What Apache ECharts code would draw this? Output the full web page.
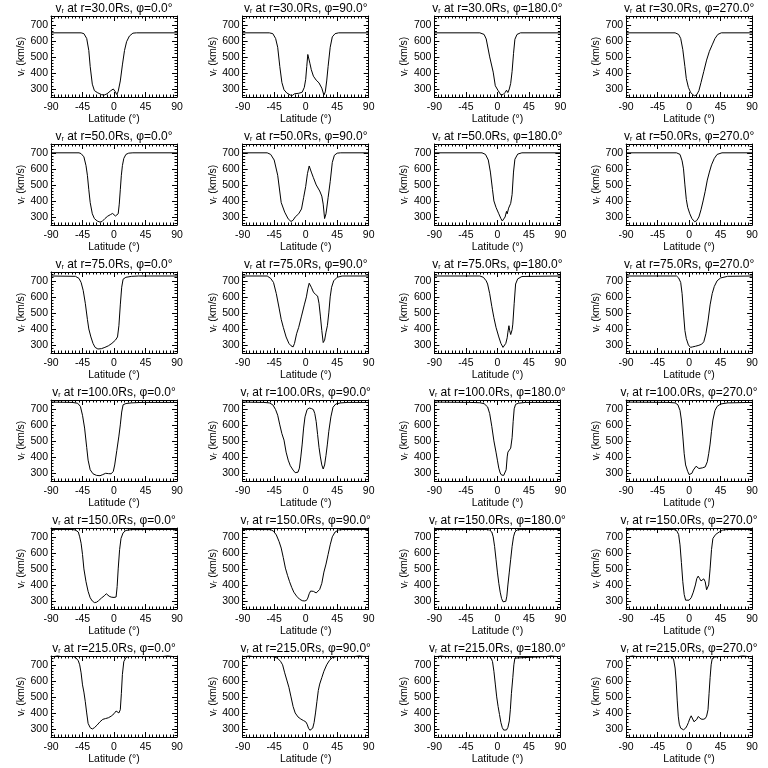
<!DOCTYPE html>
<html><head><meta charset="utf-8">
<script src="https://cdn.jsdelivr.net/npm/echarts@6/dist/echarts.min.js"></script>
<style>html,body{margin:0;padding:0;background:#fff}#c{width:768px;height:768px}</style>
</head><body><div id="c"></div>
<script>
const radii = [30, 50, 75, 100, 150, 215];
const phis = [0, 90, 180, 270];
const latTicks = [-90, -45, 0, 45, 90];

// [latitude (deg), v_r (km/s)]
const r30_p0 = [[-90,650],[-47,650],[-43,645],[-39,615],[-36,540],[-34,440],[-31,330],[-28,290],[-24,278],[-18,265],[-14,262],[-10,270],[-5,288],[-1,300],[2,282],[4,265],[6,285],[9,350],[12,450],[15,540],[18,595],[22,630],[27,648],[32,650],[90,650]];
const r30_p90 = [[-90,650],[-52,650],[-47,645],[-43,615],[-40,560],[-37,440],[-34,340],[-31,295],[-27,275],[-22,262],[-19,260],[-16,270],[-10,273],[-5,280],[-2,310],[0,360],[1.5,440],[3,515],[4.5,505],[6,460],[8,420],[11,380],[15,355],[19,338],[23,305],[26,262],[28,282],[30,350],[32,440],[35,560],[38,625],[42,645],[47,650],[90,650]];
const r30_p180 = [[-90,650],[-25,650],[-19,640],[-16,612],[-11,500],[-6,405],[-3,320],[1,290],[5,263],[8,265],[11,278],[13,292],[15,278],[17,300],[19,335],[21,410],[23,520],[25,610],[28,640],[33,650],[90,650]];
const r30_p270 = [[-90,650],[-20,650],[-15,640],[-12,615],[-9,545],[-6,440],[-4,365],[-1,310],[2,280],[5,265],[8,257],[11,265],[14,290],[17,340],[21,410],[25,480],[29,535],[33,575],[37,615],[41,640],[46,650],[90,650]];

const r50_p0 = [[-90,700],[-50,700],[-47,695],[-43,675],[-40,620],[-38,560],[-36,470],[-34,390],[-31,320],[-28,290],[-24,275],[-20,268],[-17,272],[-13,290],[-9,305],[-5,315],[-2,322],[0,318],[2,306],[4,304],[6,320],[7.5,380],[9,470],[10.5,560],[12,620],[14,665],[17,690],[21,698],[27,700],[90,700]];
const r50_p90 = [[-90,700],[-55,700],[-50,690],[-45,655],[-40,560],[-35,390],[-30,330],[-25,288],[-21,272],[-18,280],[-15,300],[-10,320],[-6,350],[-3,420],[0,490],[2.5,570],[5,618],[8,580],[11,545],[15,500],[20,462],[23,430],[25,380],[27,290],[29,320],[32,420],[35,520],[38,640],[41,685],[45,698],[50,700],[90,700]];
const r50_p180 = [[-90,700],[-22,700],[-17,690],[-13,655],[-10,580],[-7,470],[-5,400],[-2,360],[2,320],[5,290],[7,275],[9,278],[11,300],[13,335],[14,320],[16,355],[19,385],[21,440],[23,580],[25,660],[29,692],[35,700],[90,700]];
const r50_p270 = [[-90,700],[-18,700],[-13,690],[-10,650],[-8,600],[-6,500],[-4,410],[-2,360],[1,320],[4,290],[8,270],[11,278],[14,300],[17,345],[20,400],[23,460],[26,530],[29,580],[32,625],[36,665],[40,690],[47,700],[90,700]];

const r75_p0 = [[-90,730],[-55,728],[-50,715],[-47,690],[-44,640],[-41,560],[-38,460],[-36,400],[-33,350],[-30,310],[-27,285],[-23,275],[-18,277],[-13,285],[-8,295],[-3,310],[2,330],[5,350],[7,420],[9,550],[11,660],[13,710],[17,722],[25,728],[35,730],[90,730]];
const r75_p90 = [[-90,730],[-55,730],[-50,715],[-46,690],[-42,620],[-38,530],[-35,460],[-32,410],[-28,350],[-24,310],[-21,295],[-18,288],[-16,310],[-13,370],[-10,410],[-6,480],[-2,550],[1,600],[3,650],[5,685],[8,660],[11,630],[14,615],[17,605],[19,560],[21,480],[23,390],[25,315],[27,330],[29,380],[31,420],[33,500],[35,600],[37,660],[40,700],[45,722],[52,730],[90,730]];
const r75_p180 = [[-90,730],[-25,730],[-20,722],[-16,700],[-14,680],[-11,620],[-8,540],[-5,470],[-2,410],[2,350],[5,310],[8,285],[10,290],[12,310],[14,345],[15,380],[16.5,420],[17.5,390],[19,365],[21,395],[22,430],[24,560],[26,680],[29,712],[35,727],[90,730]];
const r75_p270 = [[-90,730],[-18,730],[-15,718],[-12,690],[-10,620],[-8,500],[-6,390],[-4,340],[-1,300],[2,285],[5,288],[9,292],[14,298],[18,305],[21,320],[24,370],[27,450],[30,550],[33,620],[36,665],[40,700],[45,718],[55,728],[90,730]];

const r100_p0 = [[-90,742],[-60,740],[-52,735],[-48,715],[-45,660],[-42,580],[-39,460],[-37,380],[-34,320],[-30,295],[-25,285],[-20,283],[-16,290],[-12,298],[-8,296],[-4,295],[-1,310],[1,350],[4,440],[7,530],[9,600],[11,680],[13,725],[17,733],[25,737],[40,740],[90,740]];
const r100_p90 = [[-90,742],[-60,740],[-52,737],[-47,725],[-43,695],[-40,660],[-37,600],[-34,545],[-31,505],[-28,430],[-25,380],[-22,345],[-18,318],[-15,302],[-13,298],[-11,305],[-9,330],[-7,400],[-5,480],[-3,580],[-1,650],[2,695],[5,705],[8,702],[11,695],[13,670],[15,620],[17,540],[19,460],[21,400],[23,350],[25,325],[27,350],[29,410],[31,480],[33,560],[36,650],[39,710],[43,730],[50,737],[60,740],[90,740]];
const r100_p180 = [[-90,742],[-40,740],[-25,738],[-19,732],[-14,712],[-11,670],[-8,590],[-5,500],[-2,430],[0,380],[2,330],[4,300],[6,287],[9,285],[11,287],[12.5,320],[14,400],[15,430],[17,440],[19,455],[21,520],[22.5,620],[24,700],[26,728],[30,735],[40,740],[90,740]];
const r100_p270 = [[-90,742],[-30,740],[-20,737],[-16,725],[-13,690],[-11,630],[-9,530],[-7,420],[-5,350],[-2,310],[0,290],[2,288],[4,298],[6,318],[8,330],[10,342],[12,340],[14,328],[16,325],[19,332],[23,338],[26,370],[28,420],[30,480],[32,560],[34,630],[37,690],[40,715],[45,730],[55,737],[90,740]];

const r150_p0 = [[-90,746],[-60,746],[-55,742],[-51,730],[-49,700],[-47,660],[-45,590],[-43,500],[-40,420],[-37,360],[-34,320],[-31,300],[-28,290],[-25,292],[-22,302],[-18,318],[-14,332],[-11,345],[-9,340],[-7,330],[-4,324],[0,322],[3,325],[4.5,390],[6,500],[8,620],[10,690],[13,725],[17,740],[25,745],[90,746]];
const r150_p90 = [[-90,746],[-50,745],[-46,735],[-42,712],[-38,670],[-35,630],[-32,570],[-29,505],[-26,460],[-23,420],[-20,385],[-17,355],[-13,330],[-9,312],[-5,302],[-2,300],[1,303],[3,318],[5,345],[7,362],[9,365],[11,360],[13,352],[15,350],[17,358],[20,372],[23,410],[26,480],[29,530],[32,590],[35,650],[38,700],[42,730],[47,743],[55,746],[90,746]];
const r150_p180 = [[-90,746],[-15,746],[-11,742],[-8,730],[-6,700],[-4,640],[-2,560],[0,480],[2,410],[4,355],[6,315],[8,295],[10,290],[12,298],[13.5,330],[15,400],[17,480],[19,560],[21,640],[23,700],[25,730],[28,743],[35,746],[90,746]];
const r150_p270 = [[-90,746],[-22,746],[-18,740],[-15,715],[-13,650],[-11,540],[-9,420],[-7,340],[-5,305],[-3,298],[0,305],[3,320],[6,355],[9,400],[11,440],[13,455],[15,440],[17,425],[19,432],[21,438],[23,420],[25,370],[26.5,360],[28,400],[30,500],[32,620],[34,690],[38,715],[43,730],[48,742],[55,746],[90,746]];

const r215_p0 = [[-90,770],[-76,752],[-58,752],[-54,742],[-51,725],[-49,700],[-47,650],[-45,575],[-43,530],[-41,470],[-39,400],[-37,335],[-34,308],[-31,300],[-28,308],[-24,325],[-20,345],[-16,360],[-12,365],[-8,370],[-4,380],[0,395],[3,412],[5,405],[7,400],[9,420],[10.5,520],[12,640],[14,720],[17,745],[20,752],[70,752],[90,770]];
const r215_p90 = [[-90,770],[-76,752],[-48,752],[-44,748],[-40,740],[-36,722],[-33,700],[-30,650],[-27,605],[-24,560],[-21,500],[-18,440],[-15,400],[-11,375],[-7,362],[-3,352],[0,345],[2,330],[4,305],[6,292],[8,292],[10,305],[12,340],[14,400],[16,470],[18,540],[20,580],[23,620],[26,660],[30,700],[34,728],[38,745],[44,752],[70,752],[90,770]];
const r215_p180 = [[-90,770],[-76,752],[-12,752],[-9,742],[-7,720],[-5,660],[-3,580],[-1,500],[1,440],[3,390],[5,340],[7,308],[9,293],[11,290],[13,294],[15,310],[17,350],[18.5,420],[20,520],[22,620],[23.5,700],[25,742],[27,752],[70,752],[90,770]];
const r215_p270 = [[-90,770],[-76,752],[-27,752],[-24,748],[-22,730],[-20,680],[-18.5,600],[-17,480],[-15.5,380],[-14,330],[-12,305],[-10,298],[-8,295],[-5,305],[-3,320],[-1,340],[1,365],[3,382],[5,370],[7,345],[9,338],[11,360],[13,378],[15,375],[17,362],[20,360],[23,365],[25,380],[27,420],[28.5,520],[30,620],[31.5,700],[33,738],[36,748],[42,752],[70,752],[90,770]];

const panelData = [
  [r30_p0, r30_p90, r30_p180, r30_p270],
  [r50_p0, r50_p90, r50_p180, r50_p270],
  [r75_p0, r75_p90, r75_p180, r75_p270],
  [r100_p0, r100_p90, r100_p180, r100_p270],
  [r150_p0, r150_p90, r150_p180, r150_p270],
  [r215_p0, r215_p90, r215_p180, r215_p270]
];

const FONT = 'Liberation Sans';
const BLACK = '#000';
const rich = {
  m: {fontSize: 12, fontFamily: FONT, color: BLACK, lineHeight: 15, verticalAlign: 'bottom'},
  s: {fontSize: 7, fontFamily: FONT, color: BLACK, lineHeight: 8, verticalAlign: 'bottom'}
};
const richY = {
  m: {fontSize: 10.5, fontFamily: FONT, color: BLACK, lineHeight: 13, verticalAlign: 'bottom'},
  s: {fontSize: 7, fontFamily: FONT, color: BLACK, lineHeight: 8, verticalAlign: 'bottom'}
};

const grids = [], xAxes = [], yAxes = [], series = [], graphics = [];
const W = 126, H = 81;
radii.forEach((rad, r) => {
  phis.forEach((phi, c) => {
    const i = r * 4 + c;
    const left = 51 + c * 191.7;
    const top = r * 128 + 16;
    grids.push({left: left, top: top, width: W, height: H});
    const tickCommon = {inside: true, length: 5, lineStyle: {color: BLACK, width: 1}};
    const minorX = {show: true, splitNumber: 9, length: 2.5, lineStyle: {color: BLACK, width: 1}};
    const minorY = {show: true, splitNumber: 5, length: 2.5, lineStyle: {color: BLACK, width: 1}};
    const lineCommon = {show: true, onZero: false, lineStyle: {color: BLACK, width: 1}};
    xAxes.push({
      gridIndex: i, type: 'value', position: 'bottom', min: latTicks[0], max: latTicks[latTicks.length - 1], interval: 45,
      axisLine: lineCommon, axisTick: tickCommon, minorTick: minorX, splitLine: {show: false},
      axisLabel: {color: BLACK, fontSize: 10.5, fontFamily: FONT, margin: 5},
      name: 'Latitude (°)', nameLocation: 'middle', nameGap: 15,
      nameTextStyle: {color: BLACK, fontSize: 10.5, fontFamily: FONT}
    });
    xAxes.push({
      gridIndex: i, type: 'value', position: 'top', min: -90, max: 90, interval: 45,
      axisLine: lineCommon, axisTick: tickCommon, minorTick: minorX, splitLine: {show: false},
      axisLabel: {show: false}
    });
    yAxes.push({
      gridIndex: i, type: 'value', position: 'left', min: 250, max: 755, splitNumber: 5,
      axisLine: lineCommon, axisTick: tickCommon, minorTick: minorY, splitLine: {show: false},
      axisLabel: {color: BLACK, fontSize: 10.5, fontFamily: FONT, margin: 3,
        formatter: v => (v % 100 === 0 ? String(v) : '')},
      name: '{m|v}{s|r}{m| (km/s)}', nameLocation: 'middle', nameGap: 24, nameRotate: 90,
      nameTextStyle: {rich: richY}
    });
    yAxes.push({
      gridIndex: i, type: 'value', position: 'right', min: 250, max: 755, splitNumber: 5,
      axisLine: lineCommon, axisTick: tickCommon, minorTick: minorY, splitLine: {show: false},
      axisLabel: {show: false}
    });
    series.push({
      type: 'line', xAxisIndex: 2 * i, yAxisIndex: 2 * i, data: panelData[r][c],
      showSymbol: false, symbol: 'none', clip: true, silent: true,
      lineStyle: {color: BLACK, width: 1}
    });
    graphics.push({
      type: 'text', x: left + W / 2, y: r * 128 + 0,
      style: {
        text: '{m|v}{s|r}{m| at r=' + rad.toFixed(1) + 'Rs, φ=' + phi.toFixed(1) + '°}',
        rich: rich, align: 'center', verticalAlign: 'top'
      }
    });
  });
});

const chart = echarts.init(document.getElementById('c'), null, {renderer: 'canvas'});
chart.setOption({
  backgroundColor: '#fff',
  animation: false,
  grid: grids, xAxis: xAxes, yAxis: yAxes, series: series,
  graphic: graphics
});
</script></body></html>
